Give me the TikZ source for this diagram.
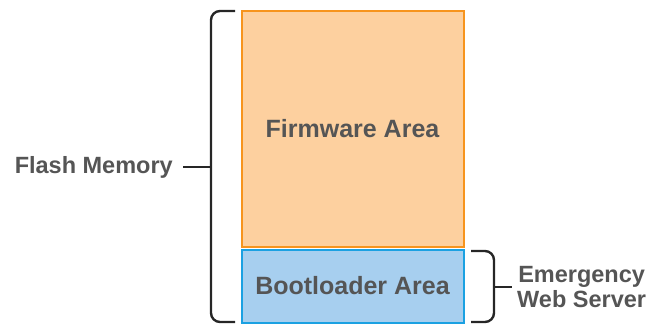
\documentclass[tikz,border=0pt]{standalone}
\usepackage{fontspec}
\setmainfont{Liberation Sans}
\usetikzlibrary{positioning}
\definecolor{fwfill}{HTML}{FDD09F}
\definecolor{fwline}{HTML}{F7941D}
\definecolor{blfill}{HTML}{A7CFEF}
\definecolor{blline}{HTML}{1BA1E2}
\definecolor{txtgray}{HTML}{555555}
\tikzstyle{area} = [draw, line width=2pt, inner sep=0pt, minimum width=222pt, text=txtgray, font=\bfseries\fontsize{25}{28}\selectfont]
\tikzstyle{label} = [text=txtgray, font=\bfseries\fontsize{23.5}{25}\selectfont, align=center, inner sep=5pt]
\tikzstyle{bracket} = [line width=2.4pt, rounded corners=9pt, color=black!85]

\begin{document}
\begin{tikzpicture}[x=1pt, y=-1pt]
    \useasboundingbox (0,0) rectangle (662,325);

    % Memory areas
    \node[area, fill=fwfill, draw=fwline, minimum height=236pt] (fw) at (352.5,128.5) {Firmware Area};
    \node[area, fill=blfill, draw=blline, minimum height=73pt] (bl) at (352.5,286) {Bootloader Area};

    % Labels
    \node[label, anchor=east] (flash) at (178,167) {Flash Memory};
    \node[label, anchor=west] (ews) at (512,287) {Emergency\\Web Server};

    % Brackets
    \coordinate (ltop) at (235,11);
    \coordinate (lbot) at (235,322);
    \coordinate (lmid) at (211,167);
    \draw[bracket] (ltop) -| (lmid) |- (lbot);
    \draw[line width=2.4pt, color=black!85, shorten >=5pt] (lmid) -- (flash.east);

    \coordinate (rtop) at (471,251);
    \coordinate (rbot) at (471,322);
    \coordinate (rmid) at (494,287);
    \draw[bracket] (rtop) -| (rmid) |- (rbot);
    \draw[line width=2.4pt, color=black!85] (rmid) -- (ews.west);
\end{tikzpicture}
\end{document}
